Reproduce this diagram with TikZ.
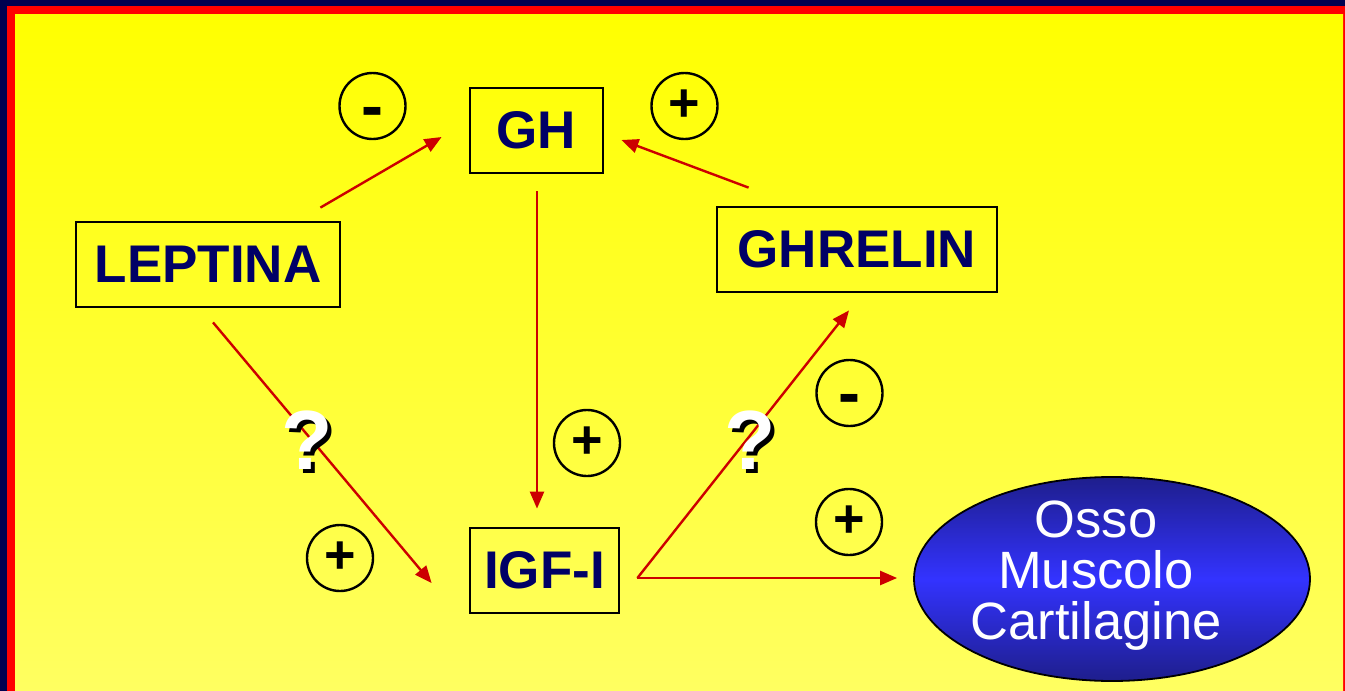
\documentclass[tikz,border=0pt]{standalone}
\usepackage{fontspec}
\setmainfont{Liberation Sans}
\usetikzlibrary{arrows.meta,shapes.geometric,calc}
\definecolor{navy}{RGB}{0,0,80}
\definecolor{lbl}{RGB}{0,0,102}
\definecolor{arr}{RGB}{204,0,0}
\definecolor{bluec}{RGB}{51,51,255}
\definecolor{blued}{RGB}{30,30,140}
\newcommand{\shadowq}{\rlap{\hspace{4pt}\raisebox{-4pt}{\color{black}?}}{\color{white}?}}
\begin{document}
\begin{tikzpicture}[x=1pt,y=-1pt,
 box/.style={draw=black,line width=2.8pt,text=lbl,font=\fontsize{53}{60}\selectfont\bfseries,inner sep=0pt,minimum height=85pt},
 sign/.style={circle,draw=black,line width=2.4pt,minimum size=66pt,inner sep=0pt,font=\fontsize{54}{60}\selectfont\bfseries},
 minus/.style={sign,font=\fontsize{66}{70}\selectfont\bfseries},
 conn/.style={draw=arr,line width=2.4pt,-{Triangle[length=17pt,width=14pt]}},
 qmark/.style={font=\fontsize{84}{90}\selectfont\bfseries},
 target/.style={ellipse,draw=black,line width=1.8pt,minimum width=396pt,minimum height=204pt,inner sep=0pt,top color=blued,bottom color=blued,middle color=bluec},
 targettext/.style={text=white,align=center,font=\fontsize{52.5}{51}\selectfont}
]
\useasboundingbox (0,0) rectangle (1345,691);
% frame
\fill[navy] (0,0) rectangle (1345,691);
\fill[red] (7,6) rectangle (1345,691);
\shade[top color=yellow,bottom color=yellow!62!white] (15,14) rectangle (1343,691);

% nodes
\node[box,minimum width=133pt] (gh) at (536.5,130.5) {GH};
\node[box,minimum width=264pt] (lep) at (208,264.5) {LEPTINA};
\node[box,minimum width=280pt] (ghr) at (857,249.5) {GHRELIN};
\node[box,minimum width=149pt] (igf) at (544.5,570.5) {IGF-I};
\node[target] (osso) at (1112,579) {};
\node[targettext] (ossotxt) at ($(osso.center)+(-16,-3)$) {Osso\\Muscolo\\Cartilagine};

% signs
\node[minus] (s1) at (372.5,106) {\raisebox{-22pt}[0pt][0pt]{-}};
\node[sign] (s2) at (684.5,106) {+};
\node[minus] (s3) at (849.5,393) {\raisebox{-22pt}[0pt][0pt]{-}};
\node[sign] (s4) at (587,443) {+};
\node[sign] (s5) at (340,558) {+};
\node[sign] (s6) at (849,522) {+};

% connectors
\coordinate (v) at ($(igf.east)+(17,7.5)$);
\draw[conn] ($(lep.north east)+(-21,-13)$) -- ($(gh.west)+(-27,6.5)$);
\draw[conn] ($(ghr.north west)+(33,-18)$) -- ($(gh.east)+(17,9.5)$);
\draw[conn] ($(gh.south)+(0.5,17)$) -- ($(igf.north)+(-7.5,-18)$);
\draw[conn] ($(lep.south)+(5,14)$) -- ($(igf.west)+(-37,12.5)$);
\draw[conn] (v) -- ($(ghr.south)+(-8,17)$);
\draw[conn] (v) -- ($(osso.west)+(-16,-1)$);

% question marks
\node[qmark] (q1) at (307,442) {\shadowq};
\node[qmark] (q2) at (750,442) {\shadowq};
\end{tikzpicture}
\end{document}
